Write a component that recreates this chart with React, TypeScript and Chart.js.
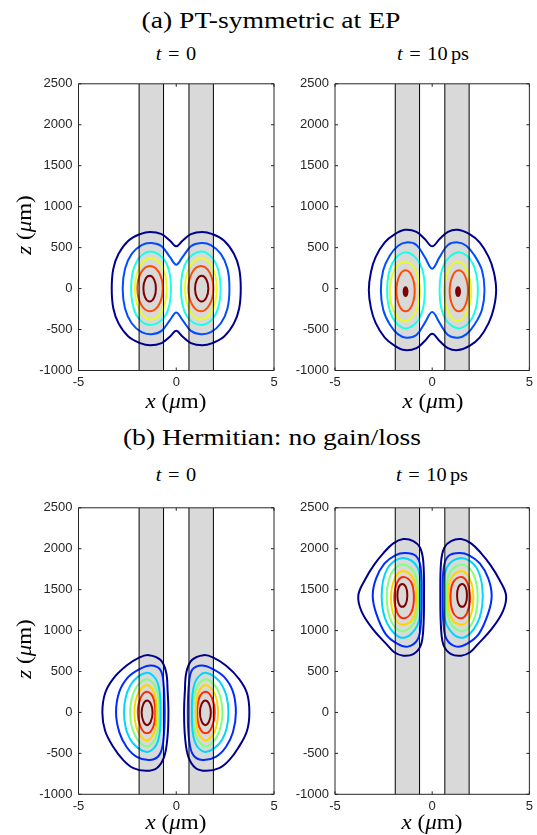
import React, { useEffect, useRef } from 'react';
import { Chart, registerables } from 'chart.js';

Chart.register(...registerables);

type Pt = [number, number];

// ---------- axes ----------
const X_TICKS = [-5, 0, 5];
const Z_TICKS = [-1000, -500, 0, 500, 1000, 1500, 2000, 2500];
const X_MIN = -5;
const X_MAX = 5;
const Z_MIN = -1000;
const Z_MAX = 2500;

// ---------- waveguides (x ranges, um) ----------
const WAVEGUIDES: Pt[] = [[-1.9, -0.65], [0.65, 1.9]];

// ---------- contour level colours (jet) ----------
const JET6 = ['#00008F', '#004DFF', '#1AFFE6', '#E6FF1A', '#FF4D00', '#800000'];
const JET7 = ['#00008F', '#002BFF', '#00D5FF', '#80FF80', '#FFD500', '#FF2B00', '#800000'];

// ---------- (a) PT-symmetric at EP, t = 0 ----------
const PT_T0_L1: Pt[] = [[-3.3,0],[-3.22,240],[-2.95,425],[-2.45,585],[-1.85,665],[-1.33,692],[-0.75,665],[-0.32,585],[0,516],[0.32,585],[0.75,665],[1.33,692],[1.85,665],[2.45,585],[2.95,425],[3.22,240],[3.3,0],[3.22,-240],[2.95,-425],[2.45,-585],[1.85,-665],[1.33,-692],[0.75,-665],[0.32,-585],[0,-516],[-0.32,-585],[-0.75,-665],[-1.33,-692],[-1.85,-665],[-2.45,-585],[-2.95,-425],[-3.22,-240]];
const PT_T0_L2: Pt[] = [[-2.74,0],[-2.62,243],[-2.28,423],[-1.77,532],[-1.26,556],[-0.75,516],[-0.32,384],[0,292],[0.32,384],[0.75,516],[1.26,556],[1.77,532],[2.28,423],[2.62,243],[2.72,0],[2.62,-243],[2.28,-423],[1.77,-532],[1.26,-556],[0.75,-516],[0.32,-384],[0,-292],[-0.32,-384],[-0.75,-516],[-1.26,-556],[-1.77,-532],[-2.28,-423],[-2.62,-243]];
const PT_T0_L3_LEFT: Pt[] = [[-2.31,0],[-2.05,320],[-1.35,452],[-0.55,330],[-0.27,0],[-0.55,-330],[-1.35,-446],[-2.05,-320]];
const PT_T0_L3_RIGHT: Pt[] = [[0.24,0],[0.52,330],[1.3,452],[2.0,320],[2.27,0],[2.0,-320],[1.3,-446],[0.52,-330]];
const PT_T0_L4_LEFT: Pt[] = [[-2.11,0],[-1.88,265],[-1.3,375],[-0.72,265],[-0.49,0],[-0.72,-265],[-1.3,-378],[-1.88,-265]];
const PT_T0_L4_RIGHT: Pt[] = [[0.45,0],[0.68,265],[1.26,375],[1.84,265],[2.07,0],[1.84,-265],[1.26,-378],[0.68,-265]];
const PT_T0_L5_LEFT: Pt[] = [[-1.99,0],[-1.8,195],[-1.34,275],[-0.88,195],[-0.69,0],[-0.88,-195],[-1.34,-278],[-1.8,-195]];
const PT_T0_L5_RIGHT: Pt[] = [[0.62,0],[0.81,195],[1.26,275],[1.71,195],[1.9,0],[1.71,-195],[1.26,-278],[0.81,-195]];
const PT_T0_L6_LEFT: Pt[] = [[-1.68,0],[-1.59,110],[-1.36,156],[-1.13,110],[-1.04,0],[-1.13,-110],[-1.36,-158],[-1.59,-110]];
const PT_T0_L6_RIGHT: Pt[] = [[0.96,0],[1.06,110],[1.3,156],[1.54,110],[1.64,0],[1.54,-110],[1.3,-158],[1.06,-110]];

// ---------- (a) PT-symmetric at EP, t = 10 ps ----------
const PT_T10_L1: Pt[] = [[-3.26,-17],[-3.15,203],[-2.91,384],[-2.44,564],[-1.92,664],[-1.41,717],[-0.81,693],[-0.38,604],[0,516],[0.38,604],[0.81,693],[1.32,717],[1.92,664],[2.44,564],[2.91,384],[3.17,203],[3.29,-17],[3.17,-238],[2.91,-418],[2.44,-598],[1.92,-699],[1.32,-751],[0.81,-727],[0.38,-639],[0,-551],[-0.38,-639],[-0.81,-727],[-1.41,-751],[-1.92,-699],[-2.44,-598],[-2.91,-418],[-3.15,-238]];
const PT_T10_L2: Pt[] = [[-2.64,-17],[-2.52,223],[-2.18,404],[-1.75,524],[-1.32,564],[-0.81,532],[-0.38,384],[0,243],[0.38,384],[0.81,532],[1.32,564],[1.75,524],[2.18,404],[2.56,223],[2.69,-17],[2.56,-258],[2.18,-438],[1.75,-559],[1.32,-599],[0.81,-567],[0.38,-418],[0,-286],[-0.38,-418],[-0.81,-567],[-1.32,-599],[-1.75,-559],[-2.18,-438],[-2.52,-258]];
const PT_T10_L3_LEFT: Pt[] = [[-2.32,-20],[-2.05,310],[-1.35,444],[-0.62,300],[-0.38,-20],[-0.62,-345],[-1.35,-486],[-2.05,-350]];
const PT_T10_L3_RIGHT: Pt[] = [[0.38,-20],[0.62,300],[1.36,444],[2.08,310],[2.35,-20],[2.08,-350],[1.36,-486],[0.62,-345]];
const PT_T10_L4_LEFT: Pt[] = [[-2.18,-33],[-1.95,225],[-1.41,332],[-0.87,225],[-0.64,-33],[-0.87,-290],[-1.41,-398],[-1.95,-290]];
const PT_T10_L4_RIGHT: Pt[] = [[0.61,-33],[0.84,225],[1.31,332],[1.78,225],[2.01,-33],[1.78,-290],[1.31,-398],[0.84,-290]];
const PT_T10_L5_LEFT: Pt[] = [[-1.84,-27],[-1.7,150],[-1.37,223],[-1.04,150],[-0.9,-27],[-1.04,-205],[-1.37,-278],[-1.7,-205]];
const PT_T10_L5_RIGHT: Pt[] = [[0.9,-27],[1.04,150],[1.37,223],[1.7,150],[1.84,-27],[1.7,-205],[1.37,-278],[1.04,-205]];
const PT_T10_L6_LEFT: Pt[] = [[-1.43,-37],[-1.41,-5],[-1.37,8],[-1.33,-5],[-1.31,-37],[-1.33,-69],[-1.37,-82],[-1.41,-69]];
const PT_T10_L6_RIGHT: Pt[] = [[1.27,-37],[1.29,-5],[1.33,8],[1.37,-5],[1.39,-37],[1.37,-69],[1.33,-82],[1.29,-69]];

// ---------- (b) Hermitian, t = 0 ----------
const H_T0_L1_LEFT: Pt[] = [[-3.78,0],[-3.64,235],[-3.22,414],[-2.54,573],[-1.9,670],[-1.4,700],[-0.8,640],[-0.52,493],[-0.44,254],[-0.4,0],[-0.45,-303],[-0.62,-542],[-1.0,-681],[-1.55,-713],[-2.19,-681],[-2.71,-582],[-3.22,-422],[-3.64,-223]];
const H_T0_L1_RIGHT: Pt[] = [[3.74,0],[3.62,-223],[3.2,-422],[2.71,-582],[2.19,-681],[1.55,-713],[1.0,-681],[0.62,-542],[0.45,-303],[0.4,0],[0.44,254],[0.52,493],[0.8,640],[1.4,700],[1.9,670],[2.54,573],[3.2,414],[3.62,235]];
const H_T0_L2_LEFT: Pt[] = [[-3.08,0],[-2.91,254],[-2.45,434],[-1.85,533],[-1.3,573],[-0.83,525],[-0.66,374],[-0.59,0],[-0.66,-342],[-0.87,-522],[-1.34,-581],[-2.02,-542],[-2.54,-422],[-2.91,-243]];
const H_T0_L2_RIGHT: Pt[] = [[3.05,0],[2.9,-243],[2.54,-422],[2.02,-542],[1.34,-581],[0.87,-522],[0.66,-342],[0.59,0],[0.66,374],[0.83,525],[1.3,573],[1.85,533],[2.45,434],[2.9,254]];
const H_T0_L3_LEFT: Pt[] = [[-2.67,0],[-2.35,330],[-1.5,485],[-0.95,360],[-0.8,0],[-0.95,-360],[-1.5,-482],[-2.35,-330]];
const H_T0_L3_RIGHT: Pt[] = [[0.8,0],[0.95,360],[1.5,485],[2.35,330],[2.67,0],[2.35,-330],[1.5,-482],[0.95,-360]];
const H_T0_L4_LEFT: Pt[] = [[-2.36,0],[-2.1,285],[-1.5,405],[-1.02,290],[-0.86,0],[-1.02,-290],[-1.5,-416],[-2.1,-285]];
const H_T0_L4_RIGHT: Pt[] = [[0.86,0],[1.02,290],[1.5,405],[2.1,285],[2.36,0],[2.1,-285],[1.5,-416],[1.02,-290]];
const H_T0_L5_LEFT: Pt[] = [[-2.14,0],[-1.95,235],[-1.5,334],[-1.12,235],[-1.0,0],[-1.12,-240],[-1.5,-342],[-1.95,-240]];
const H_T0_L5_RIGHT: Pt[] = [[1.0,0],[1.12,235],[1.5,334],[1.95,235],[2.14,0],[1.95,-240],[1.5,-342],[1.12,-240]];
const H_T0_L6_LEFT: Pt[] = [[-1.97,0],[-1.82,180],[-1.5,254],[-1.18,180],[-1.07,0],[-1.18,-180],[-1.5,-255],[-1.82,-180]];
const H_T0_L6_RIGHT: Pt[] = [[1.07,0],[1.18,180],[1.5,254],[1.82,180],[1.97,0],[1.82,-180],[1.5,-255],[1.18,-180]];
const H_T0_L7_LEFT: Pt[] = [[-1.77,0],[-1.68,105],[-1.49,147],[-1.3,105],[-1.21,0],[-1.3,-110],[-1.49,-156],[-1.68,-110]];
const H_T0_L7_RIGHT: Pt[] = [[1.21,0],[1.3,105],[1.49,147],[1.68,105],[1.77,0],[1.68,-110],[1.49,-156],[1.3,-110]];

// ---------- (b) Hermitian, t = 10 ps ----------
const H_T10_L1_LEFT: Pt[] = [[-3.8,1430],[-3.45,1625],[-3.0,1800],[-2.51,1947],[-2.0,2066],[-1.49,2118],[-0.97,2094],[-0.63,2015],[-0.46,1847],[-0.42,1430],[-0.46,1011],[-0.6,812],[-0.97,712],[-1.49,693],[-1.95,735],[-2.34,832],[-3.03,1011],[-3.63,1231]];
const H_T10_L1_RIGHT: Pt[] = [[3.8,1430],[3.63,1231],[3.03,1011],[2.34,832],[1.95,735],[1.49,693],[0.97,712],[0.6,812],[0.46,1011],[0.42,1430],[0.46,1847],[0.63,2015],[0.97,2094],[1.49,2118],[2.0,2066],[2.51,1947],[3.0,1800],[3.45,1625]];
const H_T10_L2_LEFT: Pt[] = [[-3.06,1430],[-2.88,1640],[-2.45,1820],[-1.9,1920],[-1.4,1947],[-0.85,1915],[-0.6,1780],[-0.54,1430],[-0.58,1090],[-0.75,890],[-1.25,804],[-1.8,840],[-2.4,960],[-2.88,1210]];
const H_T10_L2_RIGHT: Pt[] = [[3.06,1430],[2.88,1210],[2.4,960],[1.8,840],[1.25,804],[0.75,890],[0.58,1090],[0.54,1430],[0.6,1780],[0.85,1915],[1.4,1947],[1.9,1920],[2.45,1820],[2.88,1640]];
const H_T10_L3_LEFT: Pt[] = [[-2.6,1420],[-2.3,1760],[-1.5,1887],[-0.75,1770],[-0.59,1420],[-0.75,1070],[-1.5,911],[-2.3,1080]];
const H_T10_L3_RIGHT: Pt[] = [[0.59,1420],[0.75,1770],[1.5,1887],[2.3,1760],[2.6,1420],[2.3,1080],[1.5,911],[0.75,1070]];
const H_T10_L4_LEFT: Pt[] = [[-2.34,1410],[-2.1,1700],[-1.52,1807],[-0.9,1700],[-0.72,1410],[-0.9,1110],[-1.52,991],[-2.1,1110]];
const H_T10_L4_RIGHT: Pt[] = [[0.72,1410],[0.9,1700],[1.52,1807],[2.1,1700],[2.34,1410],[2.1,1110],[1.52,991],[0.9,1110]];
const H_T10_L5_LEFT: Pt[] = [[-2.12,1400],[-1.92,1640],[-1.5,1728],[-0.98,1640],[-0.8,1400],[-0.98,1150],[-1.5,1071],[-1.92,1150]];
const H_T10_L5_RIGHT: Pt[] = [[0.8,1400],[0.98,1640],[1.5,1728],[1.92,1640],[2.12,1400],[1.92,1150],[1.5,1071],[0.98,1150]];
const H_T10_L6_LEFT: Pt[] = [[-1.95,1403],[-1.8,1590],[-1.48,1656],[-1.08,1590],[-0.94,1403],[-1.08,1220],[-1.48,1150],[-1.8,1220]];
const H_T10_L6_RIGHT: Pt[] = [[0.94,1403],[1.08,1590],[1.48,1656],[1.8,1590],[1.95,1403],[1.8,1220],[1.48,1150],[1.08,1220]];
const H_T10_L7_LEFT: Pt[] = [[-1.79,1430],[-1.72,1530],[-1.54,1569],[-1.35,1530],[-1.28,1430],[-1.35,1330],[-1.54,1290],[-1.72,1330]];
const H_T10_L7_RIGHT: Pt[] = [[1.28,1430],[1.35,1530],[1.54,1569],[1.72,1530],[1.79,1430],[1.72,1330],[1.54,1290],[1.35,1330]];

type Contour = { pts: Pt[]; color: string; width?: number };
type Panel = {
  canvas: { L: number; T: number; W: number; H: number };
  area: { l: number; t: number; r: number; b: number };
  contours: Contour[];
};

const PANELS: Panel[] = [
  {
    canvas: { L: 0, T: 70, W: 282, H: 322 },
    area: { l: 78.5, t: 79, r: 274, b: 370.5 },
    contours: [
      { pts: PT_T0_L1, color: JET6[0] },
      { pts: PT_T0_L2, color: JET6[1] },
      { pts: PT_T0_L3_LEFT, color: JET6[2] }, { pts: PT_T0_L3_RIGHT, color: JET6[2] },
      { pts: PT_T0_L4_LEFT, color: JET6[3] }, { pts: PT_T0_L4_RIGHT, color: JET6[3] },
      { pts: PT_T0_L5_LEFT, color: JET6[4] }, { pts: PT_T0_L5_RIGHT, color: JET6[4] },
      { pts: PT_T0_L6_LEFT, color: JET6[5] }, { pts: PT_T0_L6_RIGHT, color: JET6[5] },
    ],
  },
  {
    canvas: { L: 282, T: 70, W: 255, H: 322 },
    area: { l: 335, t: 79, r: 530, b: 370.5 },
    contours: [
      { pts: PT_T10_L1, color: JET6[0] },
      { pts: PT_T10_L2, color: JET6[1] },
      { pts: PT_T10_L3_LEFT, color: JET6[2] }, { pts: PT_T10_L3_RIGHT, color: JET6[2] },
      { pts: PT_T10_L4_LEFT, color: JET6[3] }, { pts: PT_T10_L4_RIGHT, color: JET6[3] },
      { pts: PT_T10_L5_LEFT, color: JET6[4] }, { pts: PT_T10_L5_RIGHT, color: JET6[4] },
      { pts: PT_T10_L6_LEFT, color: JET6[5], width: 3.5 }, { pts: PT_T10_L6_RIGHT, color: JET6[5], width: 3.5 },
    ],
  },
  {
    canvas: { L: 0, T: 494, W: 282, H: 322 },
    area: { l: 78.5, t: 502.7, r: 274, b: 794.3 },
    contours: [
      { pts: H_T0_L1_LEFT, color: JET7[0] }, { pts: H_T0_L1_RIGHT, color: JET7[0] },
      { pts: H_T0_L2_LEFT, color: JET7[1] }, { pts: H_T0_L2_RIGHT, color: JET7[1] },
      { pts: H_T0_L3_LEFT, color: JET7[2] }, { pts: H_T0_L3_RIGHT, color: JET7[2] },
      { pts: H_T0_L4_LEFT, color: JET7[3] }, { pts: H_T0_L4_RIGHT, color: JET7[3] },
      { pts: H_T0_L5_LEFT, color: JET7[4] }, { pts: H_T0_L5_RIGHT, color: JET7[4] },
      { pts: H_T0_L6_LEFT, color: JET7[5] }, { pts: H_T0_L6_RIGHT, color: JET7[5] },
      { pts: H_T0_L7_LEFT, color: JET7[6] }, { pts: H_T0_L7_RIGHT, color: JET7[6] },
    ],
  },
  {
    canvas: { L: 282, T: 494, W: 255, H: 322 },
    area: { l: 335, t: 502.7, r: 529.5, b: 794.3 },
    contours: [
      { pts: H_T10_L1_LEFT, color: JET7[0] }, { pts: H_T10_L1_RIGHT, color: JET7[0] },
      { pts: H_T10_L2_LEFT, color: JET7[1] }, { pts: H_T10_L2_RIGHT, color: JET7[1] },
      { pts: H_T10_L3_LEFT, color: JET7[2] }, { pts: H_T10_L3_RIGHT, color: JET7[2] },
      { pts: H_T10_L4_LEFT, color: JET7[3] }, { pts: H_T10_L4_RIGHT, color: JET7[3] },
      { pts: H_T10_L5_LEFT, color: JET7[4] }, { pts: H_T10_L5_RIGHT, color: JET7[4] },
      { pts: H_T10_L6_LEFT, color: JET7[5] }, { pts: H_T10_L6_RIGHT, color: JET7[5] },
      { pts: H_T10_L7_LEFT, color: JET7[6] }, { pts: H_T10_L7_RIGHT, color: JET7[6] },
    ],
  },
];

const AXIS_COLOR = '#262626';
const SANS = "'Liberation Sans', Arial, Helvetica, sans-serif";
const SERIF = "'Liberation Serif', 'Times New Roman', serif";

const framePlugin = {
  id: 'matlabFrame',
  afterDatasetsDraw(chart: any) {
    const { ctx, chartArea } = chart;
    const { left, right, top, bottom } = chartArea;
    const xs = chart.scales.x;
    const ys = chart.scales.y;
    ctx.save();
    ctx.strokeStyle = AXIS_COLOR;
    ctx.lineWidth = 1;
    ctx.beginPath();
    ctx.rect(left, top, right - left, bottom - top);
    X_TICKS.forEach((v) => {
      const px = xs.getPixelForValue(v);
      ctx.moveTo(px, bottom);
      ctx.lineTo(px, bottom - 3);
      ctx.moveTo(px, top);
      ctx.lineTo(px, top + 3);
    });
    Z_TICKS.forEach((v) => {
      const py = ys.getPixelForValue(v);
      ctx.moveTo(left, py);
      ctx.lineTo(left + 3, py);
      ctx.moveTo(right, py);
      ctx.lineTo(right - 3, py);
    });
    ctx.stroke();
    ctx.restore();
  },
};

function loopDataset(c: Contour) {
  const n = c.pts.length;
  const seq = [c.pts[n - 1], ...c.pts, c.pts[0], c.pts[1]];
  return {
    data: seq.map(([x, y]) => ({ x, y })),
    showLine: true,
    borderColor: c.color,
    borderWidth: c.width ?? 2,
    tension: 0.38,
    pointRadius: 0,
    pointHoverRadius: 0,
    fill: false,
    borderCapStyle: 'round',
    borderJoinStyle: 'round',
    order: 1,
    segment: {
      borderColor: (ctx: any) =>
        ctx.p0DataIndex === 0 || ctx.p0DataIndex === n + 1 ? 'rgba(0,0,0,0)' : undefined,
    },
  };
}

function buildConfig(panel: Panel): any {
  const { canvas, area } = panel;
  const yAxisWidth = area.l - canvas.L;
  const padTop = area.t - canvas.T;
  const padRight = canvas.L + canvas.W - area.r;
  const xAxisHeight = canvas.T + canvas.H - area.b;

  const datasets: any[] = [];
  WAVEGUIDES.forEach(([a, b]) => {
    [a, b].forEach((xv) => {
      datasets.push({
        data: [{ x: xv, y: Z_MIN }, { x: xv, y: Z_MAX }],
        showLine: true,
        borderColor: '#000000',
        borderWidth: 1,
        pointRadius: 0,
        pointHoverRadius: 0,
        fill: false,
        order: 0,
      });
    });
  });
  panel.contours.forEach((c) => datasets.push(loopDataset(c)));
  WAVEGUIDES.forEach(([a, b]) => {
    datasets.push({
      data: [{ x: a, y: Z_MAX }, { x: b, y: Z_MAX }],
      showLine: true,
      borderColor: 'rgba(0,0,0,0)',
      borderWidth: 0,
      backgroundColor: '#D9D9D9',
      fill: 'start',
      pointRadius: 0,
      pointHoverRadius: 0,
      order: 2,
    });
  });

  const tickFont = { family: SANS, size: 13 };
  return {
    type: 'scatter',
    data: { datasets },
    plugins: [framePlugin],
    options: {
      animation: false,
      responsive: false,
      maintainAspectRatio: false,
      events: [],
      layout: { padding: { top: padTop, right: padRight, left: 0, bottom: 0 } },
      plugins: {
        legend: { display: false },
        tooltip: { enabled: false },
        title: { display: false },
      },
      scales: {
        x: {
          type: 'linear',
          min: X_MIN,
          max: X_MAX,
          afterBuildTicks: (s: any) => {
            s.ticks = X_TICKS.map((v) => ({ value: v }));
          },
          afterFit: (s: any) => {
            s.height = xAxisHeight;
          },
          grid: { display: false, drawTicks: false },
          border: { display: false },
          ticks: {
            padding: 4,
            color: AXIS_COLOR,
            font: tickFont,
            maxRotation: 0,
            autoSkip: false,
            callback: (v: any) => String(v),
          },
        },
        y: {
          type: 'linear',
          min: Z_MIN,
          max: Z_MAX,
          afterBuildTicks: (s: any) => {
            s.ticks = Z_TICKS.map((v) => ({ value: v }));
          },
          afterFit: (s: any) => {
            s.width = yAxisWidth;
          },
          grid: { display: false, drawTicks: false },
          border: { display: false },
          ticks: {
            padding: 6,
            color: AXIS_COLOR,
            font: tickFont,
            autoSkip: false,
            callback: (v: any) => String(v),
          },
        },
      },
    },
  };
}

function ChartPanel({ panel }: { panel: Panel }) {
  const ref = useRef<HTMLCanvasElement | null>(null);
  useEffect(() => {
    if (!ref.current) return;
    const chart = new Chart(ref.current, buildConfig(panel));
    return () => chart.destroy();
  }, [panel]);
  const { L, T, W, H } = panel.canvas;
  return (
    <canvas
      ref={ref}
      width={W}
      height={H}
      style={{ position: 'absolute', left: L, top: T, width: W, height: H }}
    />
  );
}

function Text({
  cx,
  baseline,
  size,
  scale = 1.15,
  children,
}: {
  cx: number;
  baseline: number;
  size: number;
  scale?: number;
  children: React.ReactNode;
}) {
  return (
    <div
      style={{
        position: 'absolute',
        left: cx - 200,
        width: 400,
        top: baseline - 0.8375 * size,
        height: size,
        lineHeight: `${size}px`,
        fontSize: size,
        fontFamily: SERIF,
        textAlign: 'center',
        whiteSpace: 'nowrap',
        color: '#000',
        transform: `scaleX(${scale})`,
      }}
    >
      {children}
    </div>
  );
}

function VText({ cx, cy, size, children }: { cx: number; cy: number; size: number; children: React.ReactNode }) {
  return (
    <div
      style={{
        position: 'absolute',
        left: cx - 80,
        width: 160,
        top: cy - size / 2,
        height: size,
        lineHeight: `${size}px`,
        fontSize: size,
        fontFamily: SERIF,
        textAlign: 'center',
        whiteSpace: 'nowrap',
        color: '#000',
        transform: 'rotate(-90deg) scaleX(1.15)',
      }}
    >
      {children}
    </div>
  );
}

const EQ = { margin: '0 6px' };

function TZero() {
  return (
    <span>
      <i>t</i>
      <span style={EQ}>=</span>0
    </span>
  );
}
function TTen() {
  return (
    <span>
      <i>t</i>
      <span style={EQ}>=</span>10<span style={{ marginLeft: 3 }}>ps</span>
    </span>
  );
}
function XLabel() {
  return (
    <span>
      <i>x</i> (<i>μ</i>m)
    </span>
  );
}
function ZLabel() {
  return (
    <span>
      <i>z</i> (<i>μ</i>m)
    </span>
  );
}

export default function App() {
  return (
    <div
      style={{
        position: 'absolute',
        left: 0,
        top: 0,
        width: 537,
        height: 835,
        background: '#ffffff',
        overflow: 'hidden',
      }}
    >
      {PANELS.map((p, i) => (
        <ChartPanel key={i} panel={p} />
      ))}
      <Text cx={271} baseline={28.5} size={24}>(a) PT-symmetric at EP</Text>
      <Text cx={271.5} baseline={445} size={24}>(b) Hermitian: no gain/loss</Text>

      <Text cx={176.25} baseline={60} size={18.5} scale={1.1}><TZero /></Text>
      <Text cx={432.5} baseline={60} size={18.5} scale={1.1}><TTen /></Text>
      <Text cx={176.25} baseline={481.5} size={18.5} scale={1.1}><TZero /></Text>
      <Text cx={432.25} baseline={481.5} size={18.5} scale={1.1}><TTen /></Text>

      <Text cx={176.25} baseline={408} size={20}><XLabel /></Text>
      <Text cx={432.5} baseline={408} size={20}><XLabel /></Text>
      <Text cx={176.25} baseline={829} size={20}><XLabel /></Text>
      <Text cx={432.25} baseline={829} size={20}><XLabel /></Text>

      <VText cx={24} cy={225} size={20}><ZLabel /></VText>
      <VText cx={24} cy={648.5} size={20}><ZLabel /></VText>
    </div>
  );
}
